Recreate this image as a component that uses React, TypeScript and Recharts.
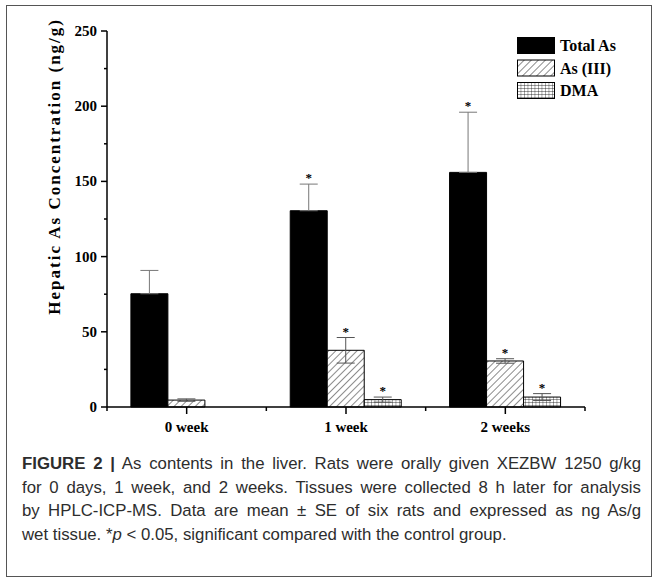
import React from "react";
import {
  BarChart,
  Bar,
  XAxis,
  YAxis,
  ErrorBar,
  LabelList,
  Label,
  Legend,
} from "recharts";

const categories = ["0 week", "1 week", "2 weeks"];
const totalAs = [75.3, 130.5, 156];
const totalAsErr = [15.5, 17.7, 40];
const as3 = [4.6, 37.7, 30.6];
const as3Err = [0.8, 8.5, 1.5];
const dma = [0, 4.9, 6.6];
const dmaErr = [0, 1.7, 2.3];
const significant = [false, true, true];
const yTicks = [0, 25, 50, 75, 100, 125, 150, 175, 200, 225, 250];
const majorTicks = [0, 50, 100, 150, 200, 250];

const data = categories.map((name, i) => ({
  name,
  total: totalAs[i],
  totalErr: [0, totalAsErr[i]],
  as3: as3[i],
  as3Err: as3Err[i],
  dma: dma[i],
  dmaErr: dmaErr[i],
}));

const serif = "'Liberation Serif', 'Times New Roman', serif";

const series: Record<string, { vals: number[]; errs: number[] }> = {
  total: { vals: totalAs, errs: totalAsErr },
  as3: { vals: as3, errs: as3Err },
  dma: { vals: dma, errs: dmaErr },
};

// label value is the category name, so zero-height bars can't shift the index
const makeStar = (key: string) => (props: any) => {
  const vb = props.viewBox ?? props;
  const { x, y, width, height } = vb;
  const i = categories.indexOf(String(props.value));
  if (i < 0 || !significant[i]) return null;
  const v = series[key].vals[i];
  if (!v) return null;
  const pxPerUnit = Math.abs(height) / v;
  const top = Math.min(y, y + height) - series[key].errs[i] * pxPerUnit;
  return (
    <text
      x={x + width / 2}
      y={top - 2}
      textAnchor="middle"
      fontFamily={serif}
      fontWeight="bold"
      fontSize={13}
      fill="#000"
    >
      *
    </text>
  );
};

const XTick = (props: any) => {
  const { x, y, payload, index } = props;
  const half = payload?.offset || 80;
  return (
    <g>
      <line x1={x} y1={y} x2={x} y2={y + 7} stroke="#000" strokeWidth={1.5} />
      <line x1={x - half} y1={y} x2={x - half} y2={y + 4} stroke="#000" strokeWidth={1.5} />
      {index === categories.length - 1 && (
        <line x1={x + half} y1={y} x2={x + half} y2={y + 4} stroke="#000" strokeWidth={1.5} />
      )}
      <text
        x={x}
        y={y + 25}
        textAnchor="middle"
        fontFamily={serif}
        fontWeight="bold"
        fontSize={15}
        fill="#000"
      >
        {payload.value}
      </text>
    </g>
  );
};

const YTick = (props: any) => {
  const { x, y, payload } = props;
  const major = majorTicks.includes(payload.value);
  return (
    <g>
      <line x1={x - (major ? 6 : 3)} y1={y} x2={x} y2={y} stroke="#000" strokeWidth={1.5} />
      {major && (
        <text
          x={x - 10}
          y={y + 5}
          textAnchor="end"
          fontFamily={serif}
          fontWeight="bold"
          fontSize={15}
          fill="#000"
        >
          {payload.value}
        </text>
      )}
    </g>
  );
};

const YLabel = (props: any) => {
  const vb = props.viewBox;
  const cx = vb.x + 8;
  const cy = vb.y + vb.height * 0.36;
  return (
    <text
      x={cx}
      y={cy}
      transform={`rotate(-90, ${cx}, ${cy})`}
      textAnchor="middle"
      dominantBaseline="central"
      fontFamily={serif}
      fontWeight="bold"
      fontSize={17}
      letterSpacing={2}
      fill="#000"
    >
      Hepatic As Concentration (ng/g)
    </text>
  );
};

const legendItems = [
  { label: "Total As", fill: "#000" },
  { label: "As (III)", fill: "url(#lg-hatch)" },
  { label: "DMA", fill: "url(#lg-grid)" },
];

const LegendBox = () => (
  <svg width={120} height={70}>
    <defs>
      <pattern id="lg-hatch" width={5} height={5} patternUnits="userSpaceOnUse" patternTransform="rotate(45)">
        <rect width={5} height={5} fill="#fff" />
        <line x1={0} y1={0} x2={0} y2={5} stroke="#000" strokeWidth={0.9} />
      </pattern>
      <pattern id="lg-grid" width={3.5} height={3} patternUnits="userSpaceOnUse">
        <rect width={3.5} height={3} fill="#fff" />
        <path d="M0,0 H3.5 M0,0 V3" stroke="#000" strokeWidth={0.7} />
      </pattern>
    </defs>
    {legendItems.map((it, i) => (
      <g key={it.label} transform={`translate(0, ${i * 22.5})`}>
        <rect x={0.5} y={0.5} width={37} height={16} fill={it.fill} stroke="#000" strokeWidth={1} />
        <text x={43} y={14} fontFamily={serif} fontWeight="bold" fontSize={16} fill="#000">
          {it.label}
        </text>
      </g>
    ))}
  </svg>
);

const justified = { textAlign: "justify" as const, textAlignLast: "justify" as const };

export default function App() {
  return (
    <div style={{ position: "absolute", left: 0, top: 0, width: 657, height: 579, background: "#fff" }}>
      <div
        style={{
          position: "absolute",
          left: 6,
          top: 5,
          width: 644,
          height: 570,
          border: "1px solid #555",
        }}
      />
      <div style={{ position: "absolute", left: 0, top: 0 }}>
        <BarChart
          width={657}
          height={450}
          data={data}
          margin={{ top: 31, right: 72, bottom: 13, left: 47 }}
          barCategoryGap="15%"
          barGap={0}
        >
          <defs>
            <pattern id="hatch" width={5} height={5} patternUnits="userSpaceOnUse" patternTransform="rotate(45)">
              <rect width={5} height={5} fill="#fff" />
              <line x1={0} y1={0} x2={0} y2={5} stroke="#000" strokeWidth={0.9} />
            </pattern>
            <pattern id="grid" width={3.5} height={3} patternUnits="userSpaceOnUse">
              <rect width={3.5} height={3} fill="#fff" />
              <path d="M0,0 H3.5 M0,0 V3" stroke="#000" strokeWidth={0.7} />
            </pattern>
          </defs>
          <XAxis
            dataKey="name"
            height={30}
            stroke="#000"
            strokeWidth={1.5}
            tickLine={false}
            tickSize={0}
            tickMargin={0}
            tick={<XTick />}
            interval={0}
          />
          <YAxis
            width={60}
            domain={[0, 250]}
            ticks={yTicks}
            interval={0}
            stroke="#000"
            strokeWidth={1.5}
            tickLine={false}
            tickSize={0}
            tickMargin={0}
            tick={<YTick />}
          >
            <Label content={<YLabel />} />
          </YAxis>
          <Legend
            layout="horizontal"
            verticalAlign="middle"
            align="center"
            content={<LegendBox />}
            wrapperStyle={{ position: "absolute", left: 517, top: 37, width: 120, height: 70 }}
          />
          <Bar dataKey="total" name="Total As" fill="#000" stroke="#000" isAnimationActive={false}>
            <ErrorBar dataKey="totalErr" width={9} stroke="#777" strokeWidth={1} />
            <LabelList dataKey="name" content={makeStar("total")} />
          </Bar>
          <Bar dataKey="as3" name="As (III)" fill="url(#hatch)" stroke="#000" strokeWidth={1} isAnimationActive={false}>
            <ErrorBar dataKey="as3Err" width={9} stroke="#555" strokeWidth={1} />
            <LabelList dataKey="name" content={makeStar("as3")} />
          </Bar>
          <Bar dataKey="dma" name="DMA" fill="url(#grid)" stroke="#000" strokeWidth={1} isAnimationActive={false}>
            <ErrorBar dataKey="dmaErr" width={9} stroke="#555" strokeWidth={1} />
            <LabelList dataKey="name" content={makeStar("dma")} />
          </Bar>
        </BarChart>
      </div>
      <div
        style={{
          position: "absolute",
          left: 22,
          top: 452,
          width: 619,
          fontFamily: "'Liberation Sans', Arial, sans-serif",
          fontSize: 16.8,
          lineHeight: "23.5px",
          color: "#2d2d2d",
          whiteSpace: "nowrap",
        }}
      >
        <div style={justified}>
          <b>FIGURE 2 |</b> As contents in the liver. Rats were orally given XEZBW 1250 g/kg
        </div>
        <div style={justified}>
          for 0 days, 1 week, and 2 weeks. Tissues were collected 8 h later for analysis
        </div>
        <div style={justified}>
          by HPLC-ICP-MS. Data are mean ± SE of six rats and expressed as ng As/g
        </div>
        <div>
          wet tissue. *<i>p</i> &lt; 0.05, significant compared with the control group.
        </div>
      </div>
    </div>
  );
}
